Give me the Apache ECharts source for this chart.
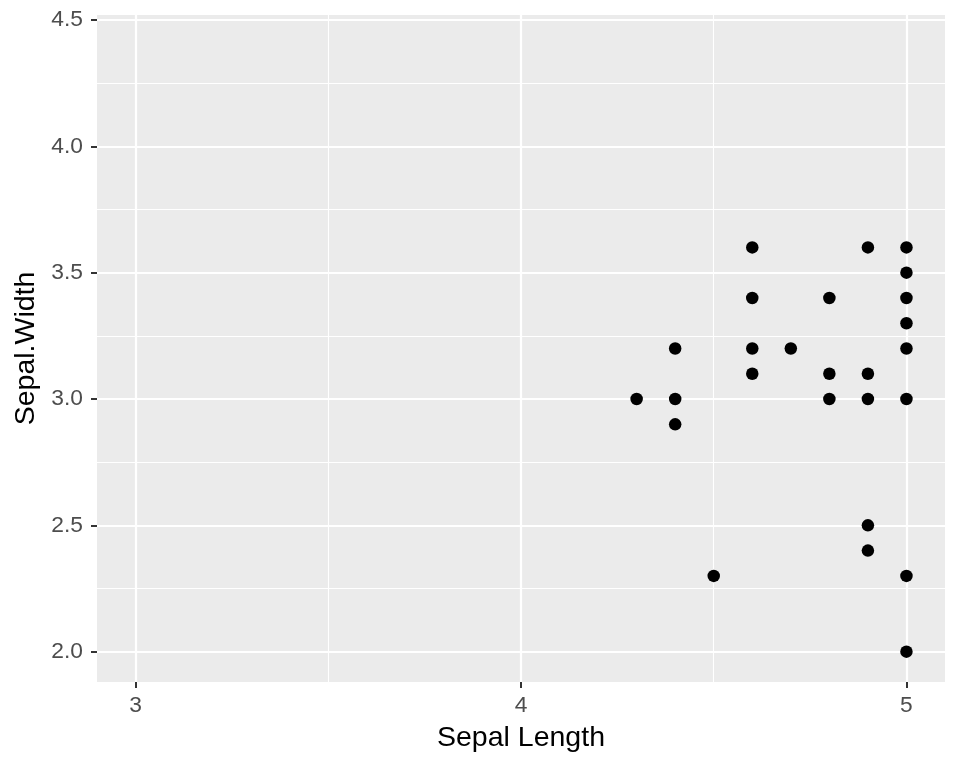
<!DOCTYPE html>
<html>
<head>
<meta charset="utf-8">
<script src="https://cdn.jsdelivr.net/npm/echarts@6/dist/echarts.min.js"></script>
<style>html,body{margin:0;padding:0;background:#fff}#c{width:960px;height:768px}</style>
</head>
<body>
<div id="c"></div>
<script>
var sepalLength = [4.3, 4.4, 4.4, 4.4, 4.5, 4.6, 4.6, 4.6, 4.6, 4.7, 4.8, 4.8, 4.8, 4.9, 4.9, 4.9, 4.9, 4.9, 5.0, 5.0, 5.0, 5.0, 5.0, 5.0, 5.0, 5.0];
var sepalWidth  = [3.0, 3.2, 3.0, 2.9, 2.3, 3.6, 3.4, 3.2, 3.1, 3.2, 3.4, 3.1, 3.0, 3.6, 3.1, 3.0, 2.5, 2.4, 3.6, 3.5, 3.4, 3.3, 3.2, 3.0, 2.3, 2.0];
var xTicks = [3, 4, 5];
var xMinor = [3.5, 4.5];
var yTicks = [2.0, 2.5, 3.0, 3.5, 4.0, 4.5];
var yMinor = [2.25, 2.75, 3.25, 3.75, 4.25];
var xRange = [2.9, 5.1];
var yRange = [1.88, 4.52];

var points = sepalLength.map(function (v, i) { return [v, sepalWidth[i]]; });
var font = 'Liberation Sans, Arial, sans-serif';

function vline(v, w) { return { xAxis: v, lineStyle: { width: w } }; }
function hline(v, w) { return { yAxis: v, lineStyle: { width: w } }; }

var gridLines = []
  .concat(xMinor.map(function (v) { return vline(v, 1.1); }))
  .concat(yMinor.map(function (v) { return hline(v, 1.1); }))
  .concat(xTicks.map(function (v) { return vline(v, 2.2); }))
  .concat(yTicks.map(function (v) { return hline(v, 2.2); }));

var chart = echarts.init(document.getElementById('c'));
chart.setOption({
  animation: false,
  grid: { left: 97, right: 15, top: 15, bottom: 86, show: true, backgroundColor: '#EBEBEB', borderWidth: 0 },
  xAxis: {
    type: 'value', min: xRange[0], max: xRange[1],
    name: 'Sepal Length', nameLocation: 'middle', nameGap: 42,
    nameTextStyle: { fontFamily: font, fontSize: 28.5, color: '#000' },
    axisLine: { show: false },
    splitLine: { show: false },
    axisTick: { show: true, customValues: xTicks, length: 6, lineStyle: { color: '#333', width: 2 } },
    axisLabel: { customValues: xTicks, fontFamily: font, fontSize: 22.8, color: '#4D4D4D', margin: 12,
      formatter: function (v) { return String(v); } }
  },
  yAxis: {
    type: 'value', min: yRange[0], max: yRange[1],
    name: 'Sepal.Width', nameLocation: 'middle', nameGap: 56, nameRotate: 90,
    nameTextStyle: { fontFamily: font, fontSize: 28.5, color: '#000' },
    axisLine: { show: false },
    splitLine: { show: false },
    axisTick: { show: true, customValues: yTicks, length: 6, lineStyle: { color: '#333', width: 2 } },
    axisLabel: { customValues: yTicks, fontFamily: font, fontSize: 22.8, color: '#4D4D4D', margin: 14,
      formatter: function (v) { return v.toFixed(1); } }
  },
  series: [
    {
      type: 'scatter', data: [], silent: true,
      markLine: { silent: true, symbol: 'none', label: { show: false },
        lineStyle: { color: '#FFFFFF', type: 'solid' }, data: gridLines, animation: false }
    },
    {
      type: 'scatter', data: points, symbol: 'circle', symbolSize: 12.5,
      itemStyle: { color: '#000', opacity: 1 }, z: 5
    }
  ]
});
</script>
</body>
</html>
